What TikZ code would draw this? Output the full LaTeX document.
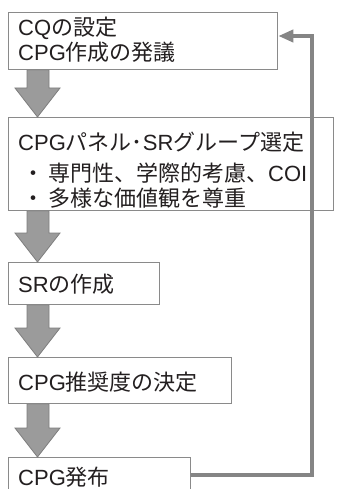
\documentclass[tikz,border=0pt]{standalone}
\usepackage{fontspec}
\setmainfont{Noto Sans CJK JP}
\newfontfamily\lat{Liberation Sans}
\usetikzlibrary{arrows.meta,calc}
\definecolor{boxline}{HTML}{8A8A8A}
\definecolor{arrfill}{HTML}{9B9B9B}
\definecolor{arrline}{HTML}{7E7E7E}
\definecolor{fbline}{HTML}{858585}
\definecolor{txt}{HTML}{231F20}
\newcommand\blockarr[2]{%
  \draw[blk] (sL |- #1.south) -- ($(sL |- #2.north)+(0,-29)$) -- ($(hL |- #2.north)+(0,-29)$)
    -- (hC |- #2.north) -- ($(hR |- #2.north)+(0,-29)$) -- ($(sR |- #2.north)+(0,-29)$)
    -- (sR |- #1.south) -- cycle;}
\begin{document}
\begin{tikzpicture}[x=1pt,y=-1pt,
  box/.style={draw=boxline, line width=1.3pt, fill=white, rectangle, inner sep=0pt, anchor=north west},
  lbl/.style={anchor=west, inner sep=0pt, text height=19.4pt, text depth=2.6pt, font=\fontsize{22}{26}\selectfont, text=txt},
  blk/.style={fill=arrfill, draw=arrline, line width=0.8pt, line join=miter},
  fb/.style={draw=fbline, line width=4pt, -{Triangle[length=15pt,width=12pt]}}]
\useasboundingbox (0,0) rectangle (339,489);
\clip (0,0) rectangle (339,489);

\coordinate (sL) at (27,0);
\coordinate (sR) at (49,0);
\coordinate (hL) at (15,0);
\coordinate (hR) at (60,0);
\coordinate (hC) at (37.5,0);
\coordinate (fx) at (312,0);
\coordinate (fy1) at (0,475);
\coordinate (fy2) at (0,36);

\node[box, minimum width=269pt, minimum height=57pt] (b1) at (8,12) {};
\node[box, minimum width=325pt, minimum height=93pt] (b2) at (8,117) {};
\node[box, minimum width=151pt, minimum height=42pt] (b3) at (8,262) {};
\node[box, minimum width=223pt, minimum height=46pt] (b4) at (8,357) {};
\node[box, minimum width=182pt, minimum height=50pt] (b5) at (8,457) {};

\node[lbl] (t1a) at (18,27) {{\lat CQ}の設定};
\node[lbl] (t1b) at (18,52) {{\lat CPG}作成の発議};
\node[lbl] (t2a) at (18,142) {{\lat CPG}パネル･{\lat SR}グループ選定};
\node[lbl] (t2b) at (22,173) {・\hspace{4pt}専門性、学際的考慮、{\lat COI}};
\node[lbl] (t2c) at (22,198) {・\hspace{4pt}多様な価値観を尊重};
\node[lbl] (t3) at (18,284) {{\lat SR}の作成};
\node[lbl] (t4) at (18,382) {{\lat CPG}推奨度の決定};
\node[lbl] (t5) at (18,477) {{\lat CPG}発布};

\blockarr{b1}{b2}
\blockarr{b2}{b3}
\blockarr{b3}{b4}
\blockarr{b4}{b5}

\draw[fb] (b5.east |- fy1) -| (fx |- fy2) -- (b1.east |- fy2);
\end{tikzpicture}
\end{document}
